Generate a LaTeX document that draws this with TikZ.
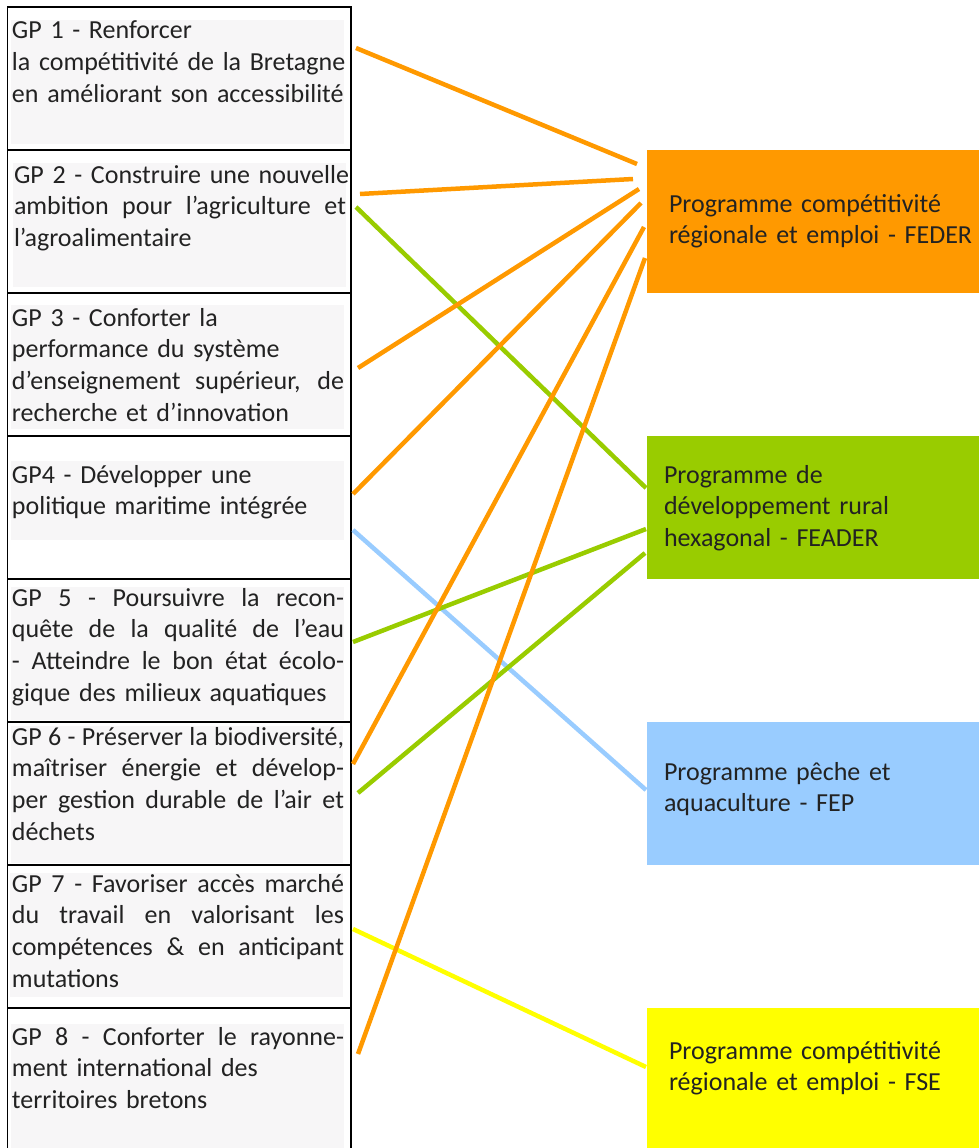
\documentclass[tikz,border=0pt]{standalone}
\usepackage{fontspec}
\setmainfont{Carlito}
\usetikzlibrary{calc}
\definecolor{cfeder}{HTML}{FF9900}
\definecolor{cfeader}{HTML}{99CC00}
\definecolor{cfep}{HTML}{99CCFF}
\definecolor{cfse}{HTML}{FFFF00}
\definecolor{txtgray}{HTML}{222222}
\definecolor{bggray}{HTML}{F7F6F7}
\newlength{\jw}
\setlength{\jw}{332pt}
\newcommand{\jline}[1]{\makebox[\jw][s]{\spaceskip=0pt\xspaceskip=0pt #1}}
\begin{document}
\begin{tikzpicture}[x=1pt,y=-1pt,
  cell/.style={draw=black,line width=1.2pt,minimum width=343.5pt,minimum height=143pt,inner sep=0pt,outer sep=0pt},
  prog/.style={inner sep=0pt,outer sep=0pt,minimum width=334pt,minimum height=143pt},
  txt/.style={anchor=base west,inner sep=0pt,outer sep=0pt,text width=340pt,text=txtgray,font=\fontsize{26}{31.7}\selectfont},
  ptxt/.style={anchor=base west,inner sep=0pt,outer sep=0pt,text width=310pt,text=txtgray,font=\fontsize{26}{31.7}\selectfont},
  link/.style={line width=4.5pt,line cap=butt}]
\useasboundingbox (0,0) rectangle (979,1148);
% light grey text backgrounds
\fill[bggray] (11,20) rectangle (344,144);
\fill[bggray] (13,163) rectangle (346,287);
\fill[bggray] (11,305) rectangle (344,429);
\fill[bggray] (11,461) rectangle (344,540);
\fill[bggray] (11,587) rectangle (344,720);
\fill[bggray] (11,726) rectangle (343,863);
\fill[bggray] (10,873) rectangle (343,997);
\fill[bggray] (11,1024) rectangle (344,1148);
% cells
\node[cell] (c1) at (179.25,78.5) {};
\node[cell] (c2) at (179.25,221.5) {};
\node[cell] (c3) at (179.25,364.5) {};
\node[cell] (c4) at (179.25,507.5) {};
\node[cell] (c5) at (179.25,650.5) {};
\node[cell] (c6) at (179.25,793.5) {};
\node[cell] (c7) at (179.25,936.5) {};
\node[cell] (c8) at (179.25,1079.5) {};
% cell texts
\node[txt] (t1) at (12,39) {GP 1 - Renforcer\\la compétitivité de la Bretagne\\en améliorant son accessibilité};
\node[txt] (t2) at (14,183) {GP 2 - Construire une nouvelle\\\jline{ambition pour l’agriculture et}\\l’agroalimentaire};
\node[txt] (t3) at (12,326) {GP 3 - Conforter la\\performance du système\\\jline{d’enseignement supérieur, de}\\recherche et d’innovation};
\node[txt] (t4) at (12,483) {GP4 - Développer une\\politique maritime intégrée};
\node[txt] (t5) at (12,606) {\jline{GP 5 - Poursuivre la recon-}\\\jline{quête de la qualité de l’eau}\\\jline{- Atteindre le bon état écolo-}\\gique des milieux aquatiques};
\node[txt] (t6) at (12,745) {\jline{GP 6 - Préserver la biodiversité,}\\\jline{maîtriser énergie et dévelop-}\\\jline{per gestion durable de l’air et}\\déchets};
\node[txt] (t7) at (12,892) {\jline{GP 7 - Favoriser accès marché}\\\jline{du travail en valorisant les}\\\jline{compétences \& en anticipant}\\mutations};
\node[txt] (t8) at (12,1045) {\jline{GP 8 - Conforter le rayonne-}\\ment international des\\territoires bretons};
% programme boxes
\node[prog,fill=cfeder] (feder) at (814,221.5) {};
\node[prog,fill=cfeader] (feader) at (814,507.5) {};
\node[prog,fill=cfep] (fep) at (814,793.5) {};
\node[prog,fill=cfse,minimum height=142pt] (fse) at (814,1079) {};
\node[ptxt] (tfeder) at (669,212) {Programme compétitivité\\régionale et emploi - FEDER};
\node[ptxt] (tfeader) at (664,483) {Programme de\\développement rural\\hexagonal - FEADER};
\node[ptxt] (tfep) at (664,780) {Programme pêche et\\aquaculture - FEP};
\node[ptxt] (tfse) at (669,1059) {Programme compétitivité\\régionale et emploi - FSE};
% connectors
\draw[link,cfep] ($(c4.east)+(2,22.5)$) -- ($(fep.west)+(-1,-3.5)$);
\draw[link,cfse] ($(c7.east)+(2,-7.5)$) -- ($(fse.west)+(-1,-12)$);
\draw[link,cfeader] ($(c2.east)+(5,-14.5)$) -- ($(feader.west)+(-1,-19.5)$);
\draw[link,cfeader] ($(c5.east)+(2,-8.5)$) -- ($(feader.west)+(-1,21.5)$);
\draw[link,cfeader] ($(c6.east)+(7,-0.5)$) -- ($(feader.west)+(-2,45.5)$);
\draw[link,cfeder] ($(c1.east)+(5,-30.5)$) -- ($(feder.west)+(-10,-57.5)$);
\draw[link,cfeder] ($(c2.east)+(9,-27.5)$) -- ($(feder.west)+(-14,-42.5)$);
\draw[link,cfeder] ($(c3.east)+(7,3.5)$) -- ($(feder.west)+(-8,-32.5)$);
\draw[link,cfeder] ($(c4.east)+(2,-13.5)$) -- ($(feder.west)+(-6,-18.5)$);
\draw[link,cfeder] ($(c6.east)+(2,-29.5)$) -- ($(feder.west)+(-3,5.5)$);
\draw[link,cfeder] ($(c8.east)+(7,-25.5)$) -- ($(feder.west)+(-2,36.5)$);
\end{tikzpicture}
\end{document}
